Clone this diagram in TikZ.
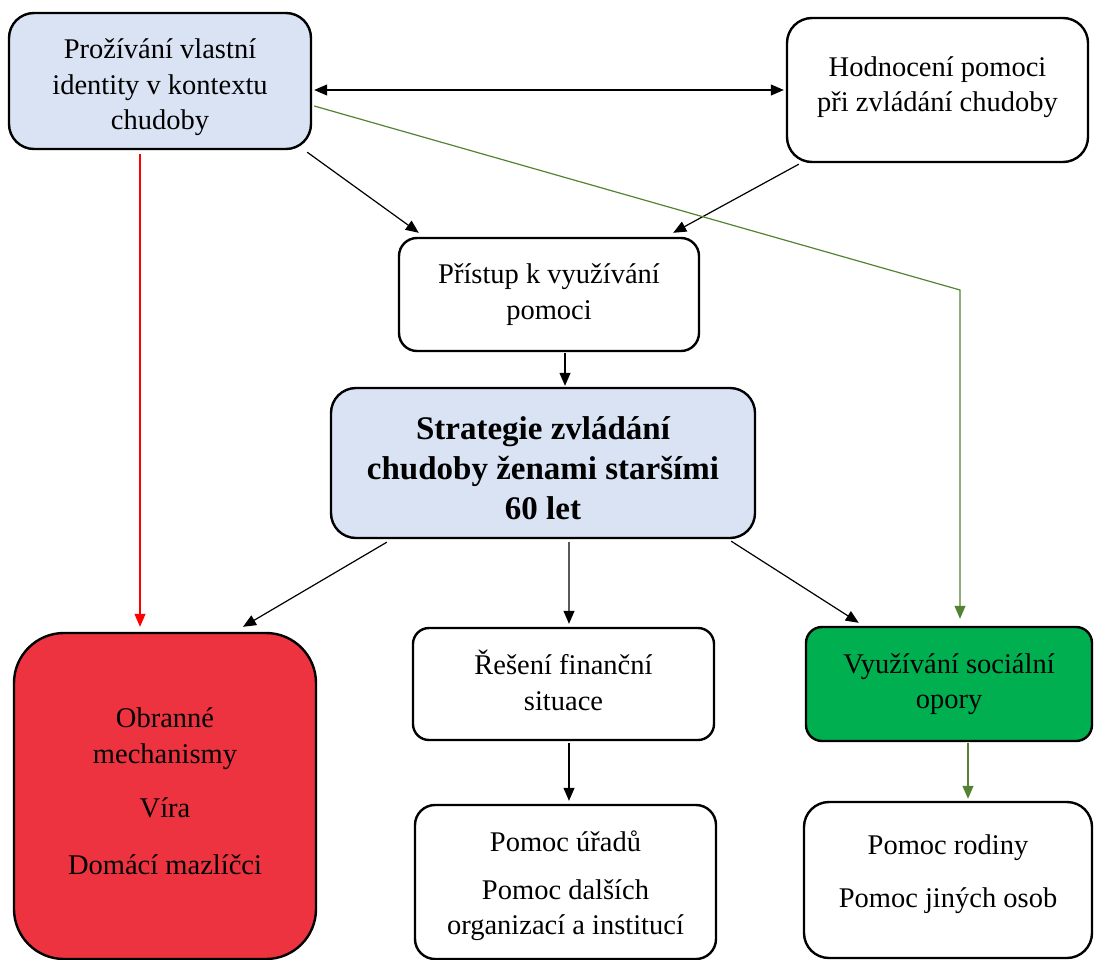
\documentclass[tikz,border=0pt]{standalone}
\usepackage{fontspec}
\setmainfont{Liberation Serif}
\usetikzlibrary{arrows.meta,calc}
\definecolor{blueF}{RGB}{218,227,243}
\definecolor{redF}{RGB}{237,51,64}
\definecolor{greenF}{RGB}{0,176,80}
\definecolor{greenL}{RGB}{84,130,53}
\definecolor{redL}{RGB}{255,0,0}
\tikzset{
  box/.style={draw=black, line width=2.4bp, inner sep=0pt, align=center,
    font=\fontsize{28.5bp}{35.5bp}\selectfont},
  arr/.style={line width=1.2bp, -{Triangle[length=13bp,width=11bp]}},
}
\begin{document}
\begin{tikzpicture}[x=1bp,y=-1bp]
\useasboundingbox (0,0) rectangle (1094,960);

\node[box, fill=blueF, rounded corners=25bp, minimum width=302bp, minimum height=136bp] (A) at (160,81)
  {\rule{0pt}{33bp}Prožívání vlastní\\identity v kontextu\\chudoby};
\node[box, rounded corners=25bp, minimum width=301bp, minimum height=144bp] (B) at (937.5,90)
  {Hodnocení pomoci\\při zvládání chudoby\\[-24bp]\mbox{}};
\node[box, rounded corners=18bp, minimum width=300bp, minimum height=113bp] (C) at (549,294.5)
  {Přístup k využívání\\pomoci};
\node[box, fill=blueF, rounded corners=25bp, minimum width=424bp, minimum height=150bp,
  font=\fontsize{33bp}{40bp}\selectfont\bfseries] (D) at (543,463)
  {\rule{0pt}{34bp}Strategie zvládání\\chudoby ženami staršími\\60 let};
\node[box, fill=redF, rounded corners=50bp, minimum width=302bp, minimum height=326bp] (E) at (165,796)
  {Obranné\\mechanismy\\[19bp]Víra\\[21bp]Domácí mazlíčci\\[-26bp]\mbox{}};
\node[box, rounded corners=16bp, minimum width=301bp, minimum height=112bp] (F) at (563.5,684)
  {Řešení finanční\\situace\\[-28bp]\mbox{}};
\node[box, rounded corners=20bp, minimum width=301bp, minimum height=154bp] (G) at (565.5,882)
  {\rule{0pt}{29bp}Pomoc úřadů\\[12bp]Pomoc dalších\\organizací a institucí};
\node[box, fill=greenF, rounded corners=16bp, minimum width=286bp, minimum height=114bp] (H) at (949,684)
  {Využívání sociální\\opory};
\node[box, rounded corners=25bp, minimum width=288bp, minimum height=156bp] (I) at (948,880)
  {Pomoc rodiny\\[18bp]Pomoc jiných osob\\[-18bp]\mbox{}};

\coordinate (gbend) at (960,290);

\draw[arr, {Triangle[length=13bp,width=11bp]}-{Triangle[length=13bp,width=11bp]}]
  ([xshift=2bp]A.east |- B.west) -- ([xshift=-2bp]B.west);
\draw[arr] ([xshift=-5bp,yshift=-2bp]A.south east) -- ($(C.north west)+(21,-4)$);
\draw[arr] ($(B.south west)+(13,1)$) -- ($(C.north east)+(-27,-4)$);
\draw[arr, greenL] ($(A.east)+(2,25)$) -- (gbend) -- ($(H.north)+(11,-7)$);
\draw[arr, redL] ($(A.south)+(-20,4)$) -- ($(E.north)+(-25,-5)$);
\draw[arr] ($(C.south)+(16,1)$) -- ($(D.north)+(22,-1)$);
\draw[arr] ($(D.south west)+(57,3)$) -- ($(E.north)+(78,-5)$);
\draw[arr] ($(D.south)+(26,3)$) -- ($(F.north)+(5.5,-3)$);
\draw[arr] ($(D.south east)+(-25,2)$) -- ($(H.north west)+(54,-3)$);
\draw[arr] ($(F.south)+(5.5,2)$) -- ($(G.north)+(3.5,-3)$);
\draw[arr, greenL] ($(H.south)+(19,1)$) -- ($(I.north)+(20,-2)$);
\end{tikzpicture}
\end{document}
